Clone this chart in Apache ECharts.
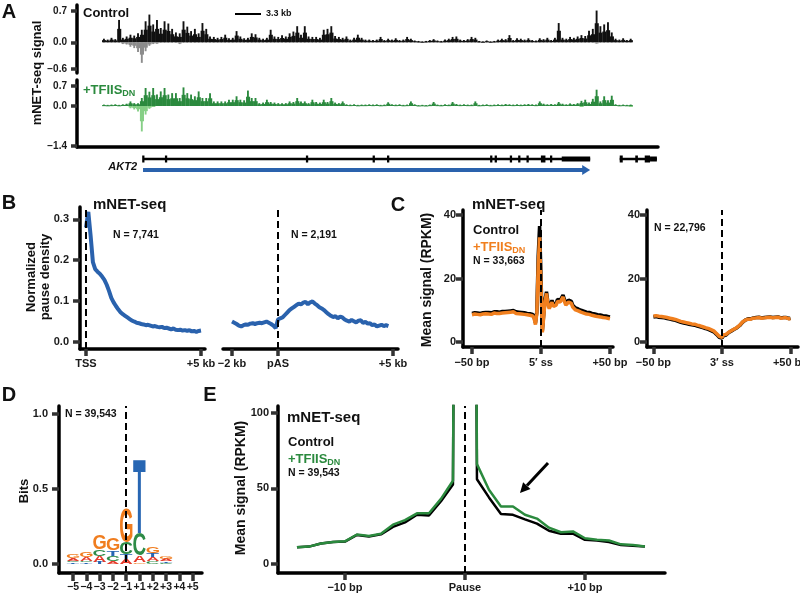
<!DOCTYPE html>
<html><head><meta charset="utf-8">
<script src="https://cdn.jsdelivr.net/npm/echarts@6/dist/echarts.min.js"></script>
<style>html,body{margin:0;padding:0;background:#fff}#c{width:800px;height:594px}</style>
</head><body><div id="c"></div>
<script>
// ---------------- DATA ----------------
// Panel A: mNET-seq signal along AKT2 locus (bins of 0.5 kb starting at 3.3 kb)
const trackStartKb = 3.3, binKb = 0.5;
const controlPos = [
0.08,0.06,0.10,0.07,0.50,0.10,0.13,0.17,0.15,0.20,
0.28,0.47,0.62,0.40,0.50,0.32,0.47,0.42,0.30,0.22,
0.20,0.47,0.35,0.25,0.30,0.20,0.43,0.30,0.13,0.12,
0.10,0.12,0.17,0.09,0.10,0.25,0.13,0.09,0.10,0.20,
0.18,0.10,0.08,0.10,0.28,0.13,0.12,0.16,0.13,0.20,
0.24,0.36,0.17,0.36,0.13,0.12,0.12,0.10,0.28,0.30,
0.36,0.14,0.12,0.10,0.13,0.06,0.10,0.17,0.10,0.06,
0.06,0.05,0.06,0.12,0.05,0.08,0.06,0.09,0.05,0.06,
0.12,0.08,0.04,0.03,0.02,0.03,0.05,0.07,0.04,0.03,
0.06,0.08,0.12,0.13,0.06,0.05,0.07,0.12,0.10,0.03,
0.02,0.04,0.02,0.03,0.06,0.08,0.07,0.16,0.05,0.09,
0.08,0.06,0.09,0.05,0.04,0.09,0.07,0.10,0.05,0.10,
0.43,0.10,0.08,0.12,0.10,0.13,0.16,0.14,0.26,0.30,
0.71,0.36,0.40,0.45,0.22,0.08,0.06,0.09,0.05,0.08];
const controlNeg = [
0,0,0,0,0,-0.04,-0.05,-0.10,-0.13,-0.22,
-0.46,-0.20,-0.08,-0.04,-0.03,0,0,0,0,0,
-0.04,0,0,0,0,0,0,0,0,0,
0,0,0,0,0,0,0,0,0,0,
0,0,0,0,0,0,0,0,0,0,
0,0,0,0,0,0,0,0,0,0,
0,0,0,0,0,0,0,0,0,0,
0,0,0,0,0,0,0,0,0,0,
0,0,0,0,0,0,0,0,0,0,
0,0,0,0,0,0,0,0,0,0,
0,0,0,0,0,0,0,0,0,0,
0,0,0,0,0,0,0,0,0,0,
0,0,0,0,0,0,0,0,0,0,
-0.03,0,0,0,0,0,0,0,0,0];
const tfiisPos = [
0.05,0.04,0.05,0.06,0.04,0.06,0.08,0.16,0.10,0.10,
0.28,0.63,0.50,0.63,0.40,0.51,0.63,0.40,0.45,0.45,
0.28,0.65,0.45,0.40,0.34,0.51,0.28,0.28,0.45,0.16,
0.16,0.16,0.16,0.22,0.22,0.34,0.22,0.20,0.54,0.28,
0.28,0.10,0.12,0.22,0.14,0.12,0.10,0.10,0.10,0.16,
0.14,0.28,0.16,0.16,0.10,0.22,0.14,0.12,0.22,0.14,
0.28,0.12,0.10,0.16,0.06,0.05,0.06,0.04,0.05,0.05,
0.06,0.05,0.06,0.04,0.05,0.13,0.06,0.05,0.06,0.04,
0.05,0.16,0.06,0.03,0.04,0.03,0.05,0.14,0.05,0.04,
0.06,0.05,0.14,0.07,0.05,0.06,0.05,0.05,0.16,0.04,
0.05,0.06,0.04,0.05,0.06,0.05,0.07,0.06,0.05,0.06,
0.05,0.06,0.07,0.06,0.05,0.16,0.08,0.06,0.07,0.06,
0.14,0.08,0.06,0.09,0.07,0.10,0.18,0.22,0.12,0.25,
0.57,0.16,0.34,0.20,0.36,0.06,0.04,0.05,0.04,0.05];
const tfiisNeg = [
0,0,0,0,0,0,0,-0.08,-0.12,-0.19,
-0.89,-0.30,-0.10,-0.03,0,0,0,0,0,0,
0,0,0,0,0,0,0,0,0,0,
0,0,0,0,0,0,0,0,0,0,
0,0,0,0,0,0,0,0,0,0,
0,0,0,0,0,0,0,0,0,0,
0,0,0,0,0,0,0,0,0,0,
0,0,0,0,0,0,0,0,0,0,
0,0,0,0,0,0,0,0,0,0,
0,0,0,0,0,0,0,0,0,0,
0,0,0,0,0,0,0,0,0,0,
0,0,0,0,0,0,0,0,0,0,
0,0,0,0,0,0,-0.03,0,0,0,
0,0,0,0,0,0,0,0,0,-0.02];
// gene models (kb)
const geneSpanKb = [8.71, 67.7];
const geneExonsKb = [[8.6,8.9],[11.6,11.9],[30.2,30.5],[39.0,39.3],[40.9,41.2],[54.5,54.8],[55.1,55.4],[57.1,57.4],[58.2,58.5],[59.3,59.6],[61.2,61.8],[62.4,62.7]];
const geneUtrKb = [63.95, 67.7];
const gene2SpanKb = [71.6, 76.5];
const gene2ExonsKb = [[71.6,72.0],[73.65,74.0],[74.9,75.6]];
const gene2UtrKb = [75.6, 76.5];

// Panel B: normalized pause density
const bTssStepKb = 0.1;
const bTssVal = [0.28,0.318,0.26,0.195,0.178,0.172,0.167,0.160,0.152,0.140,
0.125,0.108,0.097,0.088,0.080,0.073,0.068,0.064,0.060,0.056,
0.052,0.050,0.047,0.046,0.044,0.043,0.041,0.042,0.040,0.038,
0.039,0.037,0.036,0.037,0.034,0.035,0.033,0.031,0.033,0.030,
0.029,0.030,0.028,0.029,0.027,0.029,0.026,0.027,0.025,0.027,0.028];
const bPasStartKb = -2, bPasStepKb = 0.1;
const bPasVal = [0.050,0.047,0.044,0.040,0.038,0.041,0.043,0.042,0.045,0.046,
0.044,0.046,0.047,0.046,0.048,0.050,0.047,0.044,0.040,0.034,
0.055,0.058,0.060,0.066,0.072,0.078,0.082,0.086,0.090,0.094,
0.092,0.096,0.098,0.092,0.097,0.099,0.094,0.090,0.085,0.082,
0.078,0.073,0.068,0.064,0.061,0.063,0.058,0.062,0.060,0.055,
0.052,0.050,0.054,0.051,0.048,0.052,0.053,0.047,0.049,0.045,
0.046,0.041,0.043,0.038,0.040,0.042,0.039,0.041,0.039];

// Panel C: mean signal around splice sites (-50..+50 bp)
const cStartBp = -50;
const c5Orange = [8.6,8.4,8.8,8.5,8.7,8.3,8.6,8.5,8.8,8.6,
8.9,8.7,8.8,9.0,8.7,8.9,9.1,8.8,9.0,9.2,
9.0,9.3,9.1,9.4,9.2,9.5,9.3,9.1,9.4,9.2,
9.5,9.3,9.0,9.2,8.9,9.1,8.8,9.0,8.7,8.9,
8.6,8.8,8.4,8.7,8.2,7.5,5.5,9.0,24,33,
18,3,8,13,15.3,12,10.5,11.5,12.5,11.2,
10.8,11.6,12.8,13.2,12.6,13.4,14.2,12.8,11.6,11.9,
12.6,13.0,12.2,11.0,10.4,10.1,9.9,9.8,9.5,9.4,
9.2,9.1,9.0,8.8,8.7,8.7,8.5,8.4,8.3,8.2,
8.1,8.0,7.9,7.9,7.8,7.7,7.6,7.6,7.5,7.4,7.3];
const c5Black = [9.0,8.9,9.2,9.0,9.1,8.8,9.0,9.0,9.2,9.1,
9.3,9.2,9.3,9.4,9.2,9.4,9.5,9.3,9.5,9.6,
9.4,9.7,9.6,9.8,9.6,9.9,9.7,9.6,9.8,9.7,
9.9,9.7,9.5,9.6,9.4,9.5,9.3,9.4,9.2,9.3,
9.0,9.2,8.9,9.1,8.7,7.9,6.0,9.5,27,36.5,
21,3.5,8.6,13.6,15.8,12.6,11.1,12.1,13.1,11.8,
11.4,12.2,13.4,13.8,13.2,14.0,14.8,13.4,12.2,12.5,
13.2,13.6,12.8,11.6,11.0,10.7,10.5,10.4,10.1,10.0,
9.8,9.7,9.6,9.4,9.3,9.3,9.1,9.0,8.9,8.8,
8.7,8.6,8.5,8.5,8.4,8.3,8.2,8.2,8.1,8.0,7.9];
const c3Orange = [8.2,8.0,8.3,7.9,8.1,7.8,8.0,7.7,7.9,7.6,
7.7,7.4,7.5,7.2,7.3,7.0,7.1,6.9,6.8,6.7,
6.5,6.6,6.3,6.4,6.1,6.2,5.9,6.0,5.7,5.8,
5.6,5.5,5.3,5.4,5.1,5.0,4.8,4.7,4.5,4.4,
4.3,4.1,3.9,3.8,3.5,3.1,2.7,2.2,1.8,1.6,
1.5,2.2,2.6,2.4,2.9,3.1,3.5,3.6,3.9,4.1,
4.3,4.6,4.9,5.3,5.8,6.3,6.7,6.9,7.0,7.2,
7.3,7.2,7.4,7.5,7.3,7.6,7.5,7.7,7.6,7.5,
7.7,7.6,7.8,7.7,7.6,7.8,7.7,7.6,7.8,7.7,
7.6,7.8,7.7,7.5,7.7,7.6,7.4,7.6,7.5,7.3,7.4];
const c3Black = [7.9,7.7,8.0,7.6,7.8,7.5,7.7,7.4,7.6,7.3,
7.4,7.1,7.2,6.9,7.0,6.7,6.8,6.6,6.5,6.4,
6.2,6.3,6.0,6.1,5.8,5.9,5.6,5.7,5.4,5.5,
5.3,5.2,5.0,5.1,4.8,4.7,4.5,4.4,4.2,4.1,
4.0,3.8,3.6,3.5,3.2,2.8,2.4,1.9,1.5,1.3,
1.2,1.9,2.3,2.2,2.7,3.0,3.4,3.5,3.8,4.0,
4.2,4.5,4.8,5.2,5.7,6.2,6.6,6.9,7.1,7.3,
7.4,7.3,7.5,7.6,7.4,7.7,7.6,7.8,7.7,7.6,
7.8,7.7,7.9,7.8,7.7,7.9,7.8,7.7,7.9,7.8,
7.7,7.9,7.8,7.6,7.8,7.7,7.5,7.7,7.6,7.4,7.5];

// Panel D: sequence logo (bits per nucleotide)
const logoPositions = ['\u22125','\u22124','\u22123','\u22122','\u22121','+1','+2','+3','+4','+5'];
const bitsA = [0.020,0.025,0.040,0.020,0.030,0.045,0.026,0.015,0.003,0.002];
const bitsC = [0.012,0.012,0.045,0.035,0.078,0.150,0.020,0.008,0.003,0.001];
const bitsG = [0.025,0.030,0.100,0.080,0.230,0.012,0.040,0.020,0.002,0.001];
const bitsT = [0.010,0.010,0.015,0.038,0.035,0.490,0.028,0.012,0.002,0.001];

// Panel E: mean signal around pause sites (-14..+15 bp); value at 0 is off-scale
const eStartBp = -14;
const eTfiis = [11,11.5,13.5,14.5,15,19.5,18.5,20,26,29,33.5,33.5,43,55,1500,66,49,38,38,32.5,30,24,21,21.5,17,16,15.5,13,12.5,11.5];
const eControl = [11,11.5,13.5,14.5,14.8,19.2,18.2,19.6,24.5,27.5,32.5,32,41.5,52.5,1500,56,44,33,32.5,29.5,26.7,22,20,20,16,15.5,14.5,12.5,12,11.5];

// ---------------- STYLE ----------------
const FONT = '"Liberation Sans", Arial, Helvetica, sans-serif';
const INK = '#111';
const GREEN = '#2b8a3e', LIGHTGREEN = '#86cf86', GRAY = '#8c8c8c', ORANGE = '#f07f1e', BLUE = '#2a62ad';
const LOGO_COLORS = {A:'#e63a2a', C:'#2e8b47', G:'#f07d1f', T:'#2766b3'};
const MINUS = '\u2212';
const fmtNum = d => v => (v < 0 ? MINUS : '') + Math.abs(v).toFixed(d);

const mctx = document.createElement('canvas').getContext('2d');
function textWidth(t, font){ mctx.font = font; return mctx.measureText(t).width; }
const LOGO_FONT = 'bold 100px ' + FONT;
const gmCache = {};
function glyph(ch){
  if (!gmCache[ch]) {
    mctx.font = LOGO_FONT; mctx.textAlign = 'center'; mctx.textBaseline = 'middle';
    const m = mctx.measureText(ch);
    gmCache[ch] = {asc:m.actualBoundingBoxAscent, desc:m.actualBoundingBoxDescent, l:m.actualBoundingBoxLeft, r:m.actualBoundingBoxRight};
  }
  return gmCache[ch];
}

function grid(left, top, width, height){ return {left, top, width, height, containLabel:false, outerBoundsMode:'none'}; }
function axis(gridIndex, min, max, o){
  o = o || {};
  const ax = {type:'value', gridIndex, min, max, splitLine:{show:false}, silent:true,
    axisLine:{show:!!o.line, onZero:false, lineStyle:{color:'#000', width:3.5}},
    axisTick:{show:!!o.ticks, length:o.tickLen||7, lineStyle:{color:'#333', width:3.5}},
    axisLabel:{show:!!o.ticks, formatter:o.fmt, margin:o.margin||8, color:'#1a1a1a', fontSize:o.fs||11, fontWeight:'bold', fontFamily:FONT, hideOverlap:false},
    axisPointer:{show:false}};
  if (o.ticks) { ax.axisTick.customValues = o.ticks; ax.axisLabel.customValues = o.ticks; }
  return ax;
}
const mapFmt = m => v => (m[v] !== undefined ? m[v] : '');

// each bin: a full-width body at part of the value plus a narrower spike reaching the full value
function barRender(color){
  return function(params, api){
    const x0 = api.value(0), v = api.value(1);
    if (!v) return null;
    const pA = api.coord([x0, 0]), pB = api.coord([x0 + binKb, v*0.6]);
    const pC = api.coord([x0 + binKb*0.25, 0]), pD = api.coord([x0 + binKb*0.75, v]);
    return {type:'group', children:[
      {type:'rect', shape:{x:pA[0], y:Math.min(pA[1],pB[1]), width:pB[0]-pA[0]+0.3, height:Math.max(1, Math.abs(pB[1]-pA[1]))}, style:{fill:color}},
      {type:'rect', shape:{x:pC[0], y:Math.min(pC[1],pD[1]), width:pD[0]-pC[0], height:Math.abs(pD[1]-pC[1])}, style:{fill:color}}
    ]};
  };
}
const trackData = arr => arr.map((v,i) => [trackStartKb + i*binKb, v]);

const dashed = x => ({silent:true, symbol:['none','none'], animation:false, label:{show:false},
  lineStyle:{color:'#000', type:[7,4], width:2}, emphasis:{disabled:true}, data:[{xAxis:x}]});

function txt(text, x, y, o){
  o = o || {};
  const font = (o.italic ? 'italic ' : '') + 'bold ' + (o.size || 13) + 'px ' + FONT;
  const st = {text, fill:o.color || INK, font, align:o.align || 'left', verticalAlign:'middle', textAlign:o.align || 'left', textVerticalAlign:'middle'};
  if (o.lh) st.lineHeight = o.lh;
  return {type:'text', x, y, rotation:o.rot || 0, silent:true, z:100, style:st};
}
function tfiis(x, y, color){
  const w = textWidth('+TFIIS', 'bold 13px ' + FONT);
  return [txt('+TFIIS', x, y, {color}), txt('DN', x + w, y + 4, {color, size:9})];
}

// ---------------- CHART ----------------
const chart = echarts.init(document.getElementById('c'), null, {renderer:'canvas', width:800, height:594});
const AX_MIN = 0, AX_MAX = 76.65;

const option = {
  animation:false, backgroundColor:'#fff', textStyle:{fontFamily:FONT},
  grid:[
    grid(77,5,581,68),      // 0 A control
    grid(77,80,581,67),     // 1 A tfiis
    grid(77,150,581,28),    // 2 A gene
    grid(80,207,125,142),   // 3 B TSS
    grid(223,207,175,142),  // 4 B pAS
    grid(463,210,150,137),  // 5 C 5'ss
    grid(647,210,151,137),  // 6 C 3'ss
    grid(59,406,143,167),   // 7 D
    grid(278,406,387,167)   // 8 E
  ],
  xAxis:[
    axis(0, AX_MIN, AX_MAX),
    axis(1, AX_MIN, AX_MAX, {line:true}),
    axis(2, AX_MIN, AX_MAX),
    axis(3, -0.261, 5.174, {line:true, ticks:[0,5], fmt:mapFmt({0:'TSS',5:'+5 kb'}), margin:9}),
    axis(4, -2.391, 5.217, {line:true, ticks:[-2,0,5], fmt:mapFmt({'-2':MINUS+'2 kb',0:'pAS',5:'+5 kb'}), margin:9}),
    axis(5, -56.5, 52.2, {line:true, ticks:[-50,0,50], fmt:mapFmt({'-50':MINUS+'50 bp',0:'5\u2032 ss',50:'+50 bp'}), margin:10}),
    axis(6, -54.7, 55.5, {line:true, ticks:[-50,0,50], fmt:mapFmt({'-50':MINUS+'50 bp',0:'3\u2032 ss',50:'+50 bp'}), margin:10}),
    axis(7, -1.053, 9.7, {line:true, ticks:[0,1,2,3,4,5,6,7,8,9], fmt:v => logoPositions[v], margin:9, tickLen:8, fs:10.5}),
    axis(8, -15.58, 16.67, {line:true, ticks:[-10,0,10], fmt:mapFmt({'-10':MINUS+'10 bp',0:'Pause',10:'+10 bp'}), margin:9})
  ],
  yAxis:[
    axis(0, -0.687, 0.834, {line:true, ticks:[-0.6,0,0.7], fmt:fmtNum(1), margin:10, fs:10, tickLen:6}),
    axis(1, -1.434, 0.909, {line:true, ticks:[-1.4,0,0.7], fmt:fmtNum(1), margin:10, fs:10, tickLen:6}),
    axis(2, -0.727, 1.818),
    axis(3, -0.0171, 0.330, {line:true, ticks:[0,0.1,0.2,0.3], fmt:fmtNum(1), margin:11}),
    axis(4, -0.0171, 0.330),
    axis(5, -1.575, 41.57, {line:true, ticks:[0,20,40], fmt:fmtNum(0), margin:7}),
    axis(6, -1.575, 41.57, {line:true, ticks:[0,20,40], fmt:fmtNum(0), margin:7}),
    axis(7, -0.06, 1.0533, {line:true, ticks:[0,0.5,1], fmt:fmtNum(1), margin:11}),
    axis(8, -5.95, 104.4, {line:true, ticks:[0,50,100], fmt:fmtNum(0), margin:9})
  ],
  series:[
    {type:'custom', xAxisIndex:0, yAxisIndex:0, data:trackData(controlPos), renderItem:barRender(INK), silent:true},
    {type:'custom', xAxisIndex:0, yAxisIndex:0, data:trackData(controlNeg), renderItem:barRender(GRAY), silent:true},
    {type:'custom', xAxisIndex:1, yAxisIndex:1, data:trackData(tfiisPos), renderItem:barRender(GREEN), silent:true},
    {type:'custom', xAxisIndex:1, yAxisIndex:1, data:trackData(tfiisNeg), renderItem:barRender(LIGHTGREEN), silent:true},
    {type:'custom', xAxisIndex:2, yAxisIndex:2, data:[[0,0]], silent:true,
      renderItem:function(params, api){
        const yL = api.coord([0,1])[1], yA = api.coord([0,0])[1];
        const X = v => api.coord([v,0])[0];
        const seg = (a,b,y,h,c) => ({type:'rect', shape:{x:X(a), y:y-h/2, width:X(b)-X(a), height:h}, style:{fill:c}});
        const ch = [];
        ch.push(seg(geneSpanKb[0], geneSpanKb[1], yL, 2.5, '#000'));
        geneExonsKb.forEach(e => ch.push(seg(e[0], e[1], yL, 7, '#000')));
        ch.push(seg(geneUtrKb[0], geneUtrKb[1], yL, 5, '#000'));
        ch.push(seg(gene2SpanKb[0], gene2SpanKb[1], yL, 2.5, '#000'));
        gene2ExonsKb.forEach(e => ch.push(seg(e[0], e[1], yL, 7, '#000')));
        ch.push(seg(gene2UtrKb[0], gene2UtrKb[1], yL, 5, '#000'));
        const xs = X(geneSpanKb[0]), xe = X(geneSpanKb[1]);
        ch.push({type:'rect', shape:{x:xs, y:yA-2, width:xe-7-xs, height:4}, style:{fill:BLUE}});
        ch.push({type:'polygon', shape:{points:[[xe-8,yA-5],[xe,yA],[xe-8,yA+5]]}, style:{fill:BLUE}});
        return {type:'group', children:ch};
      }},
    {type:'line', xAxisIndex:3, yAxisIndex:3, data:bTssVal.map((v,i)=>[+(i*bTssStepKb).toFixed(2), v]), showSymbol:false, symbol:'none',
      lineStyle:{color:BLUE, width:4}, silent:true, markLine:dashed(0)},
    {type:'line', xAxisIndex:4, yAxisIndex:4, data:bPasVal.map((v,i)=>[+(bPasStartKb + i*bPasStepKb).toFixed(2), v]), showSymbol:false, symbol:'none',
      lineStyle:{color:BLUE, width:4}, silent:true, markLine:dashed(0)},
    {type:'line', xAxisIndex:5, yAxisIndex:5, data:c5Black.map((v,i)=>[cStartBp+i, v]), showSymbol:false, symbol:'none', lineStyle:{color:'#000', width:3.5}, silent:true},
    {type:'line', xAxisIndex:5, yAxisIndex:5, data:c5Orange.map((v,i)=>[cStartBp+i, v]), showSymbol:false, symbol:'none', lineStyle:{color:ORANGE, width:3.5}, silent:true, markLine:dashed(0)},
    {type:'line', xAxisIndex:6, yAxisIndex:6, data:c3Black.map((v,i)=>[cStartBp+i, v]), showSymbol:false, symbol:'none', lineStyle:{color:'#000', width:3.5}, silent:true},
    {type:'line', xAxisIndex:6, yAxisIndex:6, data:c3Orange.map((v,i)=>[cStartBp+i, v]), showSymbol:false, symbol:'none', lineStyle:{color:ORANGE, width:3.5}, silent:true, markLine:dashed(0)},
    {type:'custom', xAxisIndex:7, yAxisIndex:7, data:logoPositions.map((p,i)=>[i]), silent:true, markLine:dashed(4),
      renderItem:function(params, api){
        const k = api.value(0), i = params.dataIndex;
        const stack = [['A',bitsA[i]],['C',bitsC[i]],['G',bitsG[i]],['T',bitsT[i]]].sort((a,b)=>a[1]-b[1]);
        let base = 0; const children = [];
        stack.forEach(([ch,h]) => {
          const p0 = api.coord([k-0.47, base]), p1 = api.coord([k+0.47, base+h]);
          base += h;
          const hpx = p0[1]-p1[1];
          if (hpx < 0.4) return;
          const m = glyph(ch);
          const sx = (p1[0]-p0[0])/(m.l+m.r), sy = hpx/(m.asc+m.desc);
          children.push({type:'text', x:p0[0]+m.l*sx, y:p1[1]+m.asc*sy, scaleX:sx, scaleY:sy,
            style:{text:ch, font:LOGO_FONT, fill:LOGO_COLORS[ch], align:'center', verticalAlign:'middle', textAlign:'center', textVerticalAlign:'middle'}});
        });
        return {type:'group', children};
      }},
    {type:'line', xAxisIndex:8, yAxisIndex:8, data:eControl.map((v,i)=>[eStartBp+i, v]), showSymbol:false, symbol:'none', lineStyle:{color:'#000', width:2.5}, silent:true},
    {type:'line', xAxisIndex:8, yAxisIndex:8, data:eTfiis.map((v,i)=>[eStartBp+i, v]), showSymbol:false, symbol:'none', lineStyle:{color:GREEN, width:2.5}, silent:true, markLine:dashed(0)}
  ],
  graphic:[].concat(
    [txt('A',9,12,{size:20,align:'center'}), txt('B',9,203,{size:20,align:'center'}), txt('C',398,205,{size:20,align:'center'}),
     txt('D',9,395,{size:20,align:'center'}), txt('E',210,395,{size:20,align:'center'})],
    [txt('mNET-seq signal',37,73,{rot:Math.PI/2,align:'center'}),
     txt('Control',83,13), tfiis(83,90,GREEN),
     {type:'line', shape:{x1:235,y1:14,x2:261,y2:14}, style:{stroke:'#000', lineWidth:2}, silent:true},
     txt('3.3 kb',266,14,{size:9}),
     txt('AKT2',137,167,{size:11,italic:true,align:'right'})],
    [txt('Normalized\npause density',38,277,{rot:Math.PI/2,align:'center',lh:14}),
     txt('mNET-seq',93,205,{size:15}), txt('N = 7,741',113,235,{size:10.5}), txt('N = 2,191',291,235,{size:10.5})],
    [txt('Mean signal (RPKM)',427,280,{rot:Math.PI/2,align:'center',size:14}),
     txt('mNET-seq',472,205,{size:15}), txt('Control',473,230), tfiis(473,247,ORANGE),
     txt('N = 33,663',473,261,{size:10.5}), txt('N = 22,796',654,228,{size:10.5})],
    [txt('Bits',24,491,{rot:Math.PI/2,align:'center'}), txt('N = 39,543',65,414,{size:10.5})],
    [txt('Mean signal (RPKM)',241,488,{rot:Math.PI/2,align:'center',size:14}),
     txt('mNET-seq',287,418,{size:15}), txt('Control',288,442), tfiis(288,459,GREEN), txt('N = 39,543',288,473,{size:10.5}),
     {type:'line', shape:{x1:548,y1:463,x2:527,y2:485.5}, style:{stroke:'#000', lineWidth:3}, silent:true},
     {type:'polygon', shape:{points:[[520,493],[530.5,489.1],[523.1,482.3]]}, style:{fill:'#000'}, silent:true}]
  ).flat()
};
chart.setOption(option);
</script></body></html>
